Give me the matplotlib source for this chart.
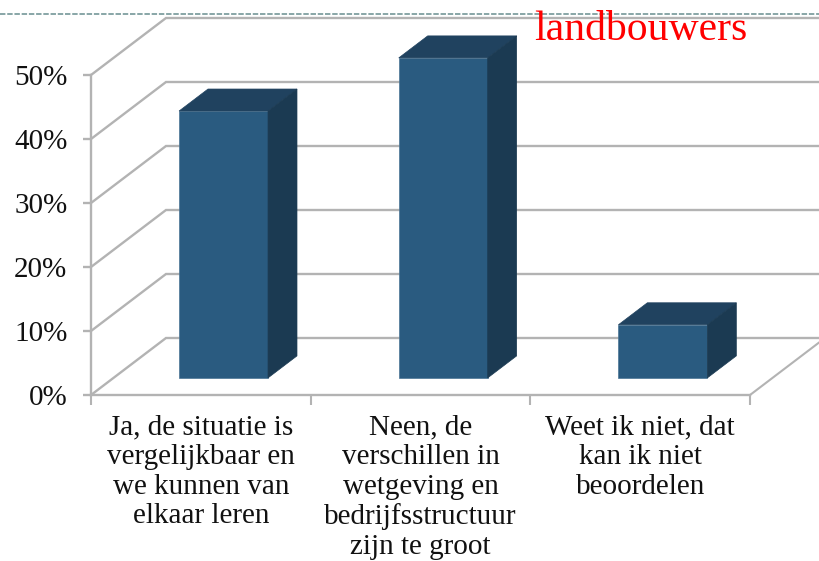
import matplotlib
matplotlib.use("Agg")
import matplotlib.pyplot as plt
from matplotlib.lines import Line2D
from matplotlib.patches import Polygon

categories = ["Ja, de situatie is\nvergelijkbaar en\nwe kunnen van\nelkaar leren",
              "Neen, de\nverschillen in\nwetgeving en\nbedrijfsstructuur\nzijn te groot",
              "Weet ik niet, dat\nkan ik niet\nbeoordelen"]
values = [41.7, 50.0, 8.3]
y_ticks = [0, 10, 20, 30, 40, 50]
y_labels = ["0%", "10%", "20%", "30%", "40%", "50%"]
title_text = "landbouwers"

W, H = 819, 561
GRID = "#b3b3b3"
FONT = ["Liberation Serif", "DejaVu Serif"]

fig = plt.figure(figsize=(W / 100, H / 100), dpi=100)
ax = fig.add_axes([91 / W, 1 - 395 / H, (750 - 91) / W, (395 - 75) / H])
ax.set_xlim(0, 3)
ax.set_ylim(0, 50)

# 3-D projection offsets, in data units
DX, DY = 75 / (659 / 3), 57 / 6.4
D0, D1 = 0.30, 0.686
BAR_W = 0.405

for v in y_ticks:
    ax.plot([0, DX, 3 + DX], [v, v + DY, v + DY], color=GRID, lw=1.7,
            clip_on=False, zorder=1, solid_joinstyle="miter")
ax.plot([3, 3 + DX], [0, DY], color=GRID, lw=1.5, clip_on=False, zorder=1)

FRONT, TOP, SIDE = "#2a5b80", "#20425f", "#1b3a52"
for i, v in enumerate(values):
    xc = i + 0.501 + D0 * DX
    x0, x1 = xc - BAR_W / 2, xc + BAR_W / 2
    y0 = D0 * DY
    y1 = y0 + v
    dx, dy = (D1 - D0) * DX, (D1 - D0) * DY
    ax.bar(xc, v, width=BAR_W, bottom=y0, color=FRONT, edgecolor="#4a7595",
           linewidth=0.5, clip_on=False, zorder=3)
    ax.add_patch(Polygon([(x0, y1), (x1, y1), (x1 + dx, y1 + dy), (x0 + dx, y1 + dy)],
                         closed=True, fc=TOP, ec=TOP, lw=0.5, clip_on=False, zorder=3))
    ax.add_patch(Polygon([(x1, y0), (x1 + dx, y0 + dy), (x1 + dx, y1 + dy), (x1, y1)],
                         closed=True, fc=SIDE, ec=SIDE, lw=0.5, clip_on=False, zorder=3))

for s in ("top", "right"):
    ax.spines[s].set_visible(False)
for s in ("left", "bottom"):
    ax.spines[s].set_color(GRID)
    ax.spines[s].set_linewidth(1.7)
    ax.spines[s].set_zorder(2)
ax.patch.set_alpha(0)

ax.set_yticks(y_ticks, y_labels, fontsize=21, family=FONT, color="#111111")
ax.set_xticks([0, 1, 2, 3], ["", "", "", ""])
ax.set_xticks([0.5, 1.5, 2.5], categories, minor=True, fontsize=21, family=FONT,
              color="#111111", linespacing=1.18, va="top")
ax.tick_params(axis="y", length=6, width=1.7, color=GRID, pad=11)
ax.tick_params(axis="x", which="major", length=7, width=1.5, color=GRID)
ax.tick_params(axis="x", which="minor", length=0, pad=14)

fig.add_artist(Line2D([0, 1], [1 - 14 / H] * 2, transform=fig.transFigure,
                      color="#7f9fa0", lw=1.3, dashes=(3, 1), zorder=5))
fig.text(641 / W, 1 - 40.5 / H, title_text, color="#ff0000", fontsize=30, family=FONT,
         ha="center", va="baseline", zorder=6)

fig.savefig("out.png", dpi=100)
